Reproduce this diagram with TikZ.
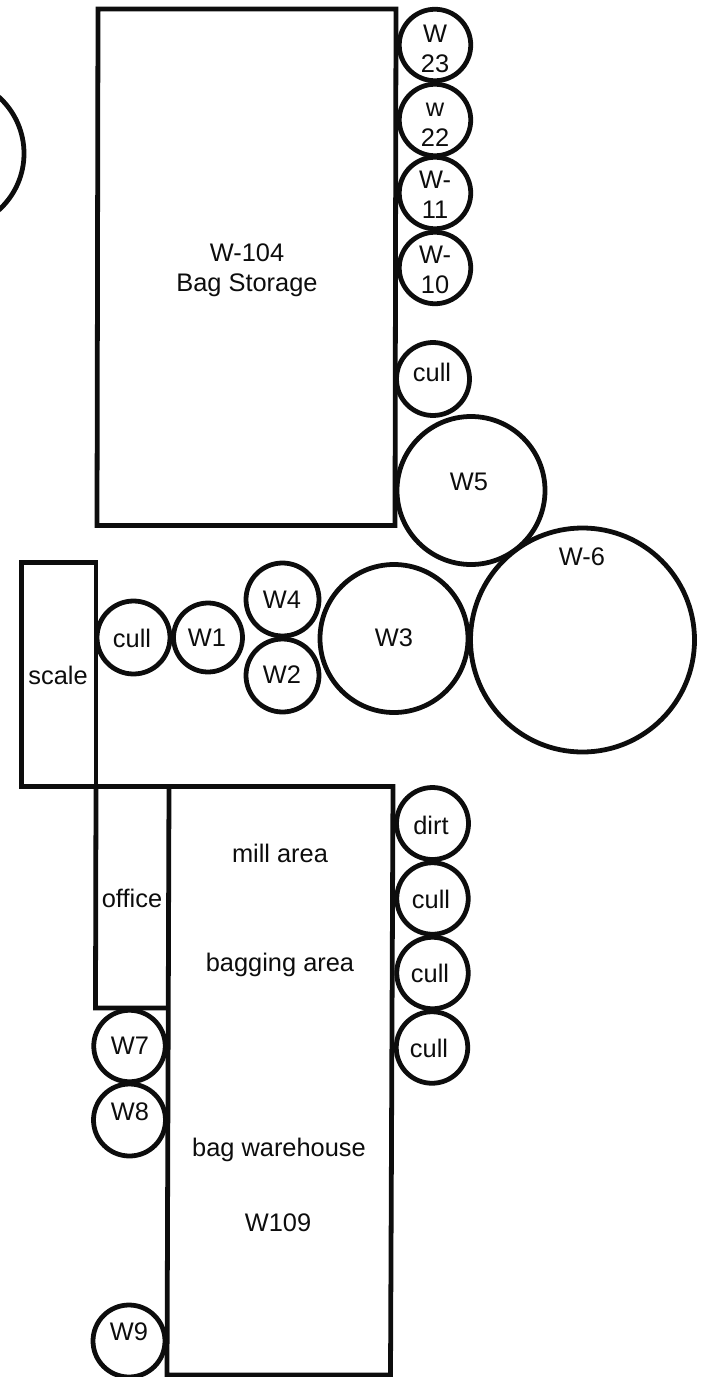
\documentclass[tikz,border=0pt]{standalone}
\usepackage{fontspec}
\setmainfont{Liberation Sans}
\begin{document}
\begin{tikzpicture}[x=1bp,y=-1bp,
  lbl/.style={inner sep=0pt,font=\fontsize{25.5}{30}\selectfont,align=center,text=black!95},
  bldg/.style={draw=black!95,line width=4.8pt,line join=miter},
  bin/.style={draw=black!95,line width=4.8pt,circle,inner sep=0pt}]
\path[use as bounding box] (0,0) rectangle (707,1377);
\clip (0,0) rectangle (707,1377);
% partial circle at left
\node[bin,minimum size=152bp] (big) at (-52,153.5) {};
% bins
\node[bin,minimum size=71.5bp] (w23) at (435,45) {};
\node[bin,minimum size=71.5bp] (w22) at (435,120) {};
\node[bin,minimum size=71.5bp] (w11) at (435,193) {};
\node[bin,minimum size=71.5bp] (w10) at (435,268) {};
\node[bin,minimum size=73bp] (cullA) at (433,379) {};
\node[bin,minimum size=148bp] (w5) at (471,490.5) {};
\node[bin,minimum size=224bp] (w6) at (582.5,640) {};
\node[bin,minimum size=148bp] (w3) at (394,638.5) {};
\node[bin,minimum size=73bp] (w4) at (282.5,599.5) {};
\node[bin,minimum size=73bp] (w2) at (282.5,675.5) {};
\node[bin,minimum size=69bp] (w1) at (208,637.5) {};
\node[bin,minimum size=73bp] (cullB) at (133.5,637.5) {};
\node[bin,minimum size=71.5bp] (w7) at (129.5,1046) {};
\node[bin,minimum size=72bp] (w8) at (129.5,1120) {};
\node[bin,minimum size=72bp] (w9) at (129,1341) {};
\node[bin,minimum size=72bp] (dirt) at (432.5,823.5) {};
\node[bin,minimum size=71.5bp] (cullC) at (432.5,898.5) {};
\node[bin,minimum size=71.5bp] (cullD) at (432.5,973) {};
\node[bin,minimum size=71.5bp] (cullE) at (432,1047.5) {};
% buildings
\draw[bldg] (98,9) -- (396,9) -- (395,525.5) -- (97,525.5) -- cycle;
\draw[bldg] (96,786.5) -- (21.5,786.5) -- (21.5,562.5) -- (96,562.5) -- (96,786.5);
\draw[bldg] (96,786.5) -- (393,786.5) -- (390.5,1375) -- (167,1375) -- (169,786.5);
\draw[bldg] (96,786.5) -- (95.5,1008) -- (168.5,1008);
% labels
\node[lbl] (t104) at (247,270) {W-104\\Bag Storage};
\node[lbl] (t23) at (435,49) {W\\23};
\node[lbl] (t22) at (435,125) {w\\22};
\node[lbl] (t11) at (435,195) {W-\\11};
\node[lbl] (t10) at (435,270) {W-\\10};
\node[lbl] (tcA) at (432,372) {cull};
\node[lbl] (t5) at (469,482) {W5};
\node[lbl] (t6) at (582,557) {W-6};
\node[lbl] (t3) at (394,638) {W3};
\node[lbl] (t4) at (282,600) {W4};
\node[lbl] (t2) at (282,675) {W2};
\node[lbl] (t1) at (207,638) {W1};
\node[lbl] (tcB) at (132,638) {cull};
\node[lbl] (tscale) at (58,675) {scale};
\node[lbl] (toffice) at (132,898) {office};
\node[lbl] (t7) at (130,1046) {W7};
\node[lbl] (t8) at (130,1112) {W8};
\node[lbl] (t9) at (129,1332) {W9};
\node[lbl] (tmill) at (280,853) {mill area};
\node[lbl] (tbag) at (280,965) {bagging area};
\node[lbl] (tware) at (279,1150) {bag warehouse};
\node[lbl] (t109) at (278,1223) {W109};
\node[lbl] (tdirt) at (431,825) {dirt};
\node[lbl] (tcC) at (431,899) {cull};
\node[lbl] (tcD) at (430,973) {cull};
\node[lbl] (tcE) at (429,1048) {cull};
\end{tikzpicture}
\end{document}
